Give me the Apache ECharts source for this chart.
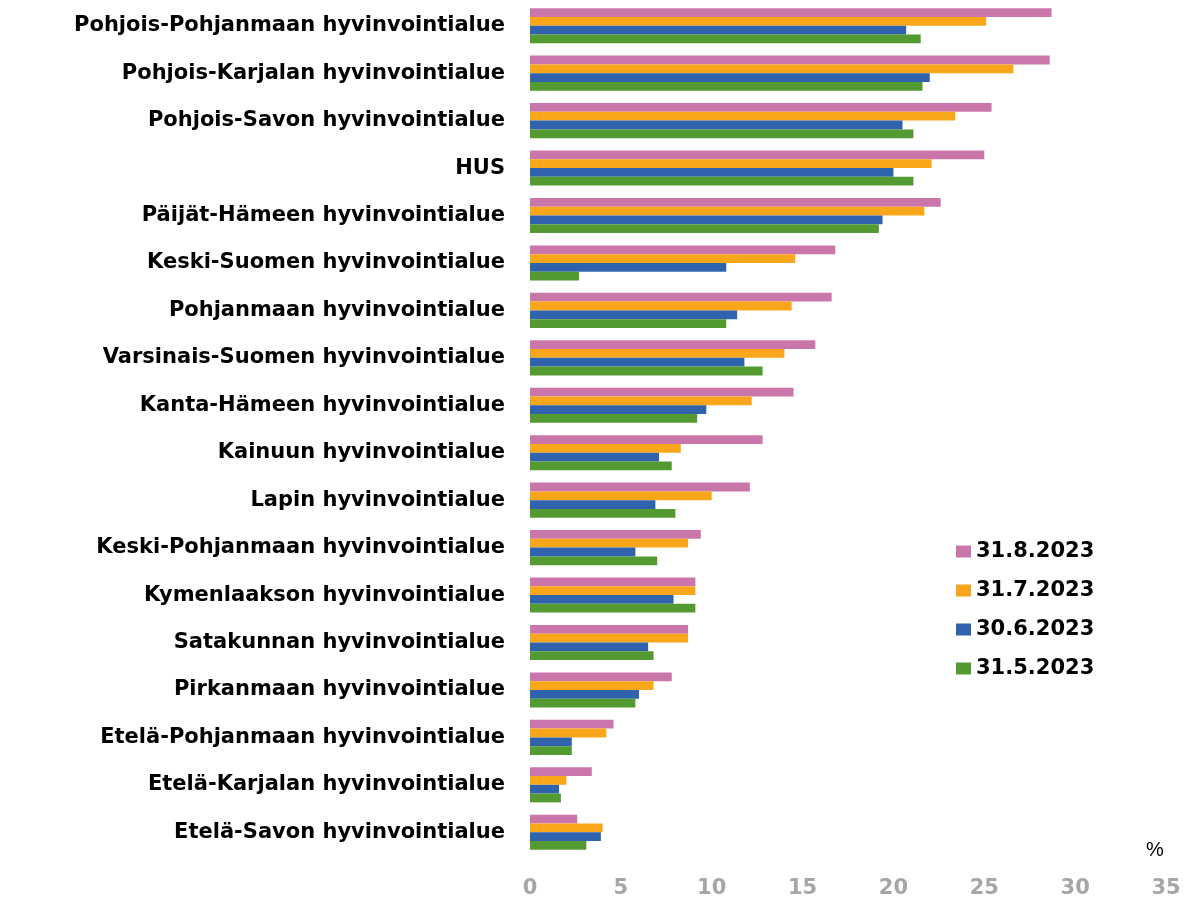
<!DOCTYPE html>
<html>
<head>
<meta charset="utf-8">
<script src="https://cdn.jsdelivr.net/npm/echarts@6/dist/echarts.min.js"></script>
<style>
html, body { margin: 0; padding: 0; background: #fff; }
#main { width: 1185px; height: 899px; }
</style>
</head>
<body>
<div id="main"></div>
<script>
// alueet ylhäältä alas
var regions = [
    'Pohjois-Pohjanmaan hyvinvointialue',
    'Pohjois-Karjalan hyvinvointialue',
    'Pohjois-Savon hyvinvointialue',
    'HUS',
    'Päijät-Hämeen hyvinvointialue',
    'Keski-Suomen hyvinvointialue',
    'Pohjanmaan hyvinvointialue',
    'Varsinais-Suomen hyvinvointialue',
    'Kanta-Hämeen hyvinvointialue',
    'Kainuun hyvinvointialue',
    'Lapin hyvinvointialue',
    'Keski-Pohjanmaan hyvinvointialue',
    'Kymenlaakson hyvinvointialue',
    'Satakunnan hyvinvointialue',
    'Pirkanmaan hyvinvointialue',
    'Etelä-Pohjanmaan hyvinvointialue',
    'Etelä-Karjalan hyvinvointialue',
    'Etelä-Savon hyvinvointialue'
];

var dates = ['31.8.2023', '31.7.2023', '30.6.2023', '31.5.2023'];

var aug = [28.7, 28.6, 25.4, 25.0, 22.6, 16.8, 16.6, 15.7, 14.5, 12.8, 12.1, 9.4, 9.1, 8.7, 7.8, 4.6, 3.4, 2.6];
var jul = [25.1, 26.6, 23.4, 22.1, 21.7, 14.6, 14.4, 14.0, 12.2, 8.3, 10.0, 8.7, 9.1, 8.7, 6.8, 4.2, 2.0, 4.0];
var jun = [20.7, 22.0, 20.5, 20.0, 19.4, 10.8, 11.4, 11.8, 9.7, 7.1, 6.9, 5.8, 7.9, 6.5, 6.0, 2.3, 1.6, 3.9];
var may = [21.5, 21.6, 21.1, 21.1, 19.2, 2.7, 10.8, 12.8, 9.2, 7.8, 8.0, 7.0, 9.1, 6.8, 5.8, 2.3, 1.7, 3.1];

var colors = ['#cb76aa', '#f9a61a', '#2f63ae', '#539a30'];

var FONT = 'DejaVu Sans';

var myChart = echarts.init(document.getElementById('main'));

function makeSeries(name, values, color) {
    return {
        name: name,
        type: 'bar',
        data: values,
        barGap: '0%',
        barCategoryGap: '26%',
        itemStyle: { color: color }
    };
}

var option = {
    animation: false,
    color: colors,
    grid: { left: 530, right: 19, top: 2, bottom: 42 },
    legend: {
        orient: 'vertical',
        left: 951,
        top: 536,
        itemWidth: 15,
        itemHeight: 12,
        itemGap: 18,
        icon: 'rect',
        data: dates,
        textStyle: {
            fontFamily: FONT,
            fontWeight: 'bold',
            fontSize: 21,
            color: '#000'
        }
    },
    xAxis: {
        type: 'value',
        min: 0,
        max: 35,
        interval: 5,
        splitLine: { show: false },
        axisLine: { show: false },
        axisTick: { show: false },
        axisLabel: {
            margin: 22,
            fontFamily: FONT,
            fontWeight: 'bold',
            fontSize: 21,
            color: '#a6a6a6'
        }
    },
    yAxis: {
        type: 'category',
        inverse: true,
        data: regions,
        axisLine: { show: false },
        axisTick: { show: false },
        axisLabel: {
            margin: 25,
            fontFamily: FONT,
            fontWeight: 'bold',
            fontSize: 21,
            color: '#000'
        }
    },
    graphic: [{
        type: 'text',
        left: 1146,
        top: 840,
        style: {
            text: '%',
            fontFamily: 'Liberation Sans',
            fontSize: 20,
            fill: '#000'
        }
    }],
    series: [
        makeSeries(dates[0], aug, colors[0]),
        makeSeries(dates[1], jul, colors[1]),
        makeSeries(dates[2], jun, colors[2]),
        makeSeries(dates[3], may, colors[3])
    ]
};

myChart.setOption(option);
</script>
</body>
</html>
